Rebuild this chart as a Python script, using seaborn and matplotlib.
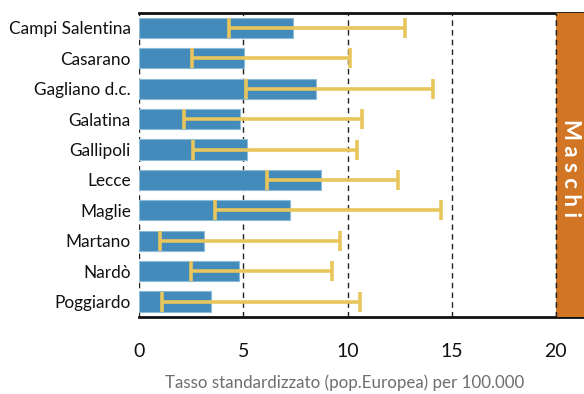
import matplotlib
matplotlib.use("Agg")
import matplotlib.pyplot as plt
import seaborn as sns
import numpy as np
import pandas as pd

comuni = ["Campi Salentina", "Casarano", "Gagliano d.c.", "Galatina", "Gallipoli",
          "Lecce", "Maglie", "Martano", "Nardò", "Poggiardo"]
tasso = [7.39, 5.04, 8.48, 4.82, 5.18, 8.71, 7.24, 3.11, 4.80, 3.43]
ic_inf = [4.29, 2.53, 5.14, 2.16, 2.56, 6.12, 3.65, 1.01, 2.50, 1.10]
ic_sup = [12.76, 10.13, 14.10, 10.71, 10.47, 12.43, 14.50, 9.62, 9.24, 10.61]
xticks = [0, 5, 10, 15, 20]
pannello = "Maschi"

sns.set_theme(style="white")
plt.rcParams["font.family"] = ["Lato", "DejaVu Sans"]

df = pd.DataFrame({"comune": comuni, "tasso": tasso})

fig = plt.figure(figsize=(5.84, 3.94), dpi=100)
ax = fig.add_axes([139.3 / 584, 1 - 316.7 / 394, 1 - 139.3 / 584, (316.7 - 12.7) / 394])

sns.barplot(data=df, x="tasso", y="comune", orient="h", color="#438BBA",
            saturation=1, width=0.66, edgecolor="#8DBBD8", linewidth=0.8,
            ax=ax, zorder=2)

ypos = np.arange(len(comuni))
t = np.array(tasso)
err = np.vstack([t - np.array(ic_inf), np.array(ic_sup) - t])
ax.errorbar(t, ypos, xerr=err, fmt="none", ecolor="#E8C65C", elinewidth=2.6,
            capsize=7, capthick=2.6, zorder=3)

ax.set_xlim(0, 21.35)
ax.set_ylim(len(comuni) - 0.5, -0.5)

for v in xticks:
    ax.axvline(v, color="#222222", linestyle=(0, (4, 3)), linewidth=1.0, zorder=1)

ax.axvspan(20, 21.35, color="#D27625", zorder=2.6, lw=0)
ax.axvline(20, color="#222222", linestyle=(0, (4, 3)), linewidth=1.0, zorder=2.7)
ax.text(20.7, 4.6, " ".join(pannello), rotation=-90, color="white", fontsize=16,
        fontweight="bold", ha="center", va="center", zorder=3)

ax.set_xticks(xticks)
ax.set_xticklabels([str(v) for v in xticks], fontsize=14, color="#111111")
ax.tick_params(axis="x", length=0, pad=19)
ax.tick_params(axis="y", length=0, pad=6, labelsize=12.4, labelcolor="#111111")
ax.set_ylabel("")
ax.set_xlabel("Tasso standardizzato (pop.Europea) per 100.000",
              fontsize=12.2, color="#6E6E6E")
ax.xaxis.set_label_coords(0.462, -0.19)

for s in ["left", "right"]:
    ax.spines[s].set_visible(False)
for s in ["top", "bottom"]:
    ax.spines[s].set_color("#111111")
    ax.spines[s].set_linewidth(2.0)

fig.savefig("out.png", dpi=100)
